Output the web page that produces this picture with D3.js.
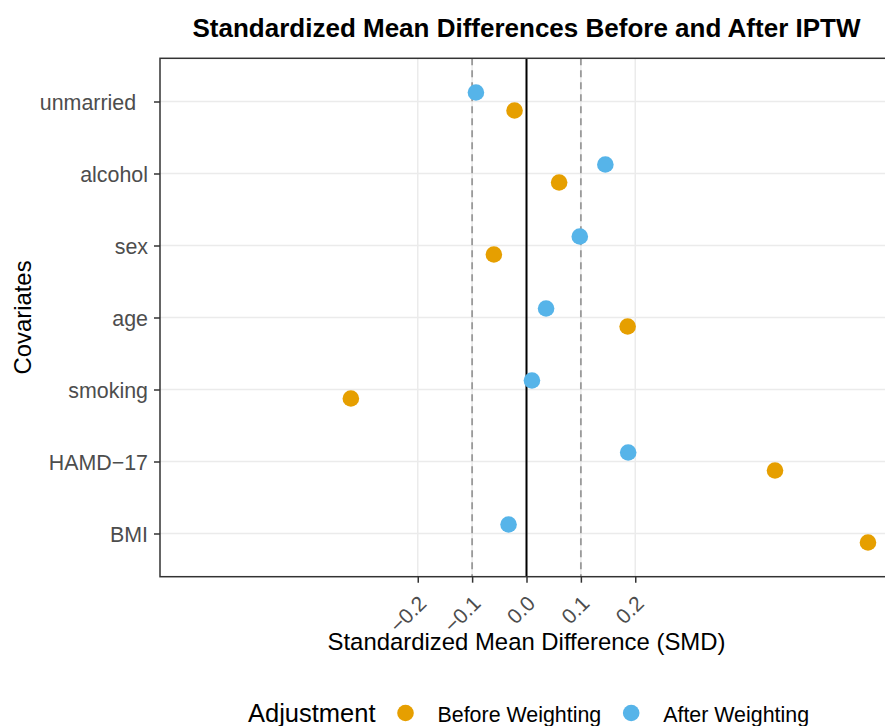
<!DOCTYPE html>
<html>
<head>
<meta charset="utf-8">
<script src="https://cdn.jsdelivr.net/npm/d3@7"></script>
<style>
  body { margin: 0; background: #fff; }
  text { font-family: "Liberation Sans", Arial, Helvetica, sans-serif; }
</style>
</head>
<body>
<div id="chart"></div>
<script>
// data
var covariates = ["unmarried  ", "alcohol", "sex", "age", "smoking", "HAMD\u221217", "BMI"];
var smdBefore = [-0.022, 0.060, -0.060, 0.186, -0.323, 0.457, 0.628];
var smdAfter  = [-0.093, 0.145,  0.098, 0.036,  0.010, 0.187, -0.033];
var groups = ["Before Weighting", "After Weighting"];
var groupColors = ["#E69F00", "#56B4E9"];
var xTicks = [-0.2, -0.1, 0.0, 0.1, 0.2];
var threshold = 0.1;

var W = 885, H = 726;
var panel = {left: 160, top: 58.3, right: 893, bottom: 576.7};

var svg = d3.select("#chart")
  .append("svg")
    .attr("width", W)
    .attr("height", H);

var x = d3.scaleLinear()
  .domain([-0.674, 0.674])
  .range([panel.left, panel.right]);

var y = d3.scalePoint()
  .domain(covariates)
  .range([panel.top, panel.bottom])
  .padding(0.6);

var dodge = d3.scalePoint()
  .domain(["After Weighting", "Before Weighting"])
  .range([-9, 9]);

var color = d3.scaleOrdinal().domain(groups).range(groupColors);

// long format
var points = [];
covariates.forEach(function(c, i) {
  points.push({cov: c, group: "Before Weighting", smd: smdBefore[i]});
  points.push({cov: c, group: "After Weighting", smd: smdAfter[i]});
});

var pw = panel.right - panel.left, ph = panel.bottom - panel.top;

// grid
var grid = svg.append("g");
grid.selectAll(".hg")
  .data(covariates)
  .enter().append("line")
    .attr("x1", panel.left).attr("x2", panel.right)
    .attr("y1", function(d) { return y(d); })
    .attr("y2", function(d) { return y(d); })
    .attr("stroke", "#ebebeb").attr("stroke-width", 1.5);
grid.selectAll(".vg")
  .data(xTicks)
  .enter().append("line")
    .attr("x1", function(d) { return x(d); })
    .attr("x2", function(d) { return x(d); })
    .attr("y1", panel.top).attr("y2", panel.bottom)
    .attr("stroke", "#ebebeb").attr("stroke-width", 1.5);

// threshold lines
svg.selectAll(".thr")
  .data([-threshold, threshold])
  .enter().append("line")
    .attr("x1", function(d) { return x(d); })
    .attr("x2", function(d) { return x(d); })
    .attr("y1", panel.top).attr("y2", panel.bottom)
    .attr("stroke", "#9a9a9a")
    .attr("stroke-width", 1.8)
    .attr("stroke-dasharray", "7,5");

svg.append("line")
  .attr("x1", x(0)).attr("x2", x(0))
  .attr("y1", panel.top).attr("y2", panel.bottom)
  .attr("stroke", "#000").attr("stroke-width", 2);

// points
svg.selectAll(".pt")
  .data(points)
  .enter().append("circle")
    .attr("cx", function(d) { return x(d.smd); })
    .attr("cy", function(d) { return y(d.cov) + dodge(d.group); })
    .attr("r", 8.3)
    .attr("fill", function(d) { return color(d.group); });

// panel border
svg.append("rect")
  .attr("x", panel.left).attr("y", panel.top)
  .attr("width", pw).attr("height", ph)
  .attr("fill", "none").attr("stroke", "#333333").attr("stroke-width", 1.5);

// x axis
var xAxis = svg.append("g")
  .attr("transform", "translate(0," + panel.bottom + ")")
  .call(d3.axisBottom(x).tickValues(xTicks).tickSize(6)
        .tickFormat(function(d) { return d3.format(".1f")(d).replace("-", "\u2212"); }));
xAxis.select(".domain").remove();
xAxis.selectAll(".tick line").attr("stroke", "#333333").attr("stroke-width", 1.5);
xAxis.selectAll(".tick text")
  .attr("fill", "#4d4d4d")
  .style("font-size", "21px")
  .attr("text-anchor", "end")
  .attr("y", 0).attr("dy", 0)
  .attr("transform", "translate(9.5,28) rotate(-45)");

// y axis
var yAxis = svg.append("g")
  .attr("transform", "translate(" + panel.left + ",0)")
  .call(d3.axisLeft(y).tickSize(6).tickPadding(6));
yAxis.select(".domain").remove();
yAxis.selectAll(".tick line").attr("stroke", "#333333").attr("stroke-width", 1.5);
yAxis.selectAll(".tick text")
  .attr("fill", "#4d4d4d")
  .style("font-size", "21.4px")
  .style("white-space", "pre")
  .attr("dy", "0.35em");

// titles
var cx = (panel.left + panel.right) / 2;
svg.append("text")
  .attr("x", cx).attr("y", 37)
  .attr("text-anchor", "middle")
  .style("font-size", "26px").style("font-weight", "bold")
  .text("Standardized Mean Differences Before and After IPTW");

svg.append("text")
  .attr("x", cx).attr("y", 650)
  .attr("text-anchor", "middle")
  .style("font-size", "23.9px")
  .text("Standardized Mean Difference (SMD)");

svg.append("text")
  .attr("transform", "translate(31," + (panel.top + ph / 2) + ") rotate(-90)")
  .attr("text-anchor", "middle")
  .style("font-size", "23.9px")
  .text("Covariates");

// legend
var leg = svg.append("g");
var legTitle = leg.append("text")
  .attr("y", 722)
  .style("font-size", "25.5px")
  .text("Adjustment");
var pos = legTitle.node().getComputedTextLength() + 30;
groups.forEach(function(g) {
  leg.append("circle")
    .attr("cx", pos).attr("cy", 713)
    .attr("r", 8.3)
    .attr("fill", color(g));
  var t = leg.append("text")
    .attr("x", pos + 32).attr("y", 722)
    .style("font-size", "21.4px")
    .text(g);
  pos += 32 + t.node().getComputedTextLength() + 30;
});
var legW = pos - 30;
leg.attr("transform", "translate(" + (528.5 - legW / 2) + ",0)");
</script>
</body>
</html>
